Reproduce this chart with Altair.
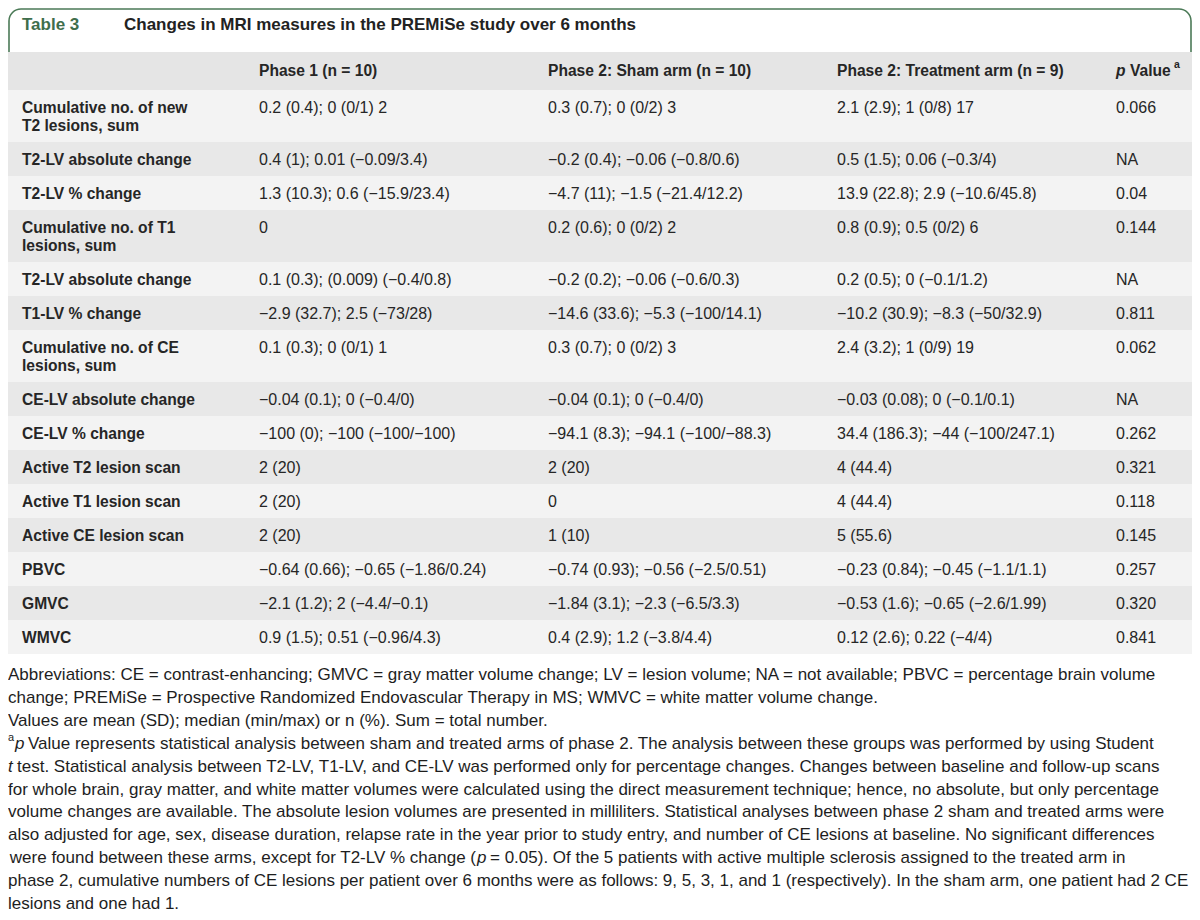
import altair as alt
import pandas as pd

# ---------------- content ----------------
title_tag = "Table 3"
title_text = "Changes in MRI measures in the PREMiSe study over 6 months"
col_headers = ["Phase 1 (n = 10)", "Phase 2: Sham arm (n = 10)", "Phase 2: Treatment arm (n = 9)"]
pval_header = [("p", "italic"), ("Value", "bold"), ("a", "sup")]

row_labels = [
    "Cumulative no. of new\nT2 lesions, sum",
    "T2-LV absolute change",
    "T2-LV % change",
    "Cumulative no. of T1\nlesions, sum",
    "T2-LV absolute change",
    "T1-LV % change",
    "Cumulative no. of CE\nlesions, sum",
    "CE-LV absolute change",
    "CE-LV % change",
    "Active T2 lesion scan",
    "Active T1 lesion scan",
    "Active CE lesion scan",
    "PBVC",
    "GMVC",
    "WMVC",
]
phase1 = [
    "0.2 (0.4); 0 (0/1) 2", "0.4 (1); 0.01 (−0.09/3.4)", "1.3 (10.3); 0.6 (−15.9/23.4)", "0",
    "0.1 (0.3); (0.009) (−0.4/0.8)", "−2.9 (32.7); 2.5 (−73/28)", "0.1 (0.3); 0 (0/1) 1",
    "−0.04 (0.1); 0 (−0.4/0)", "−100 (0); −100 (−100/−100)", "2 (20)", "2 (20)", "2 (20)",
    "−0.64 (0.66); −0.65 (−1.86/0.24)", "−2.1 (1.2); 2 (−4.4/−0.1)", "0.9 (1.5); 0.51 (−0.96/4.3)",
]
sham = [
    "0.3 (0.7); 0 (0/2) 3", "−0.2 (0.4); −0.06 (−0.8/0.6)", "−4.7 (11); −1.5 (−21.4/12.2)",
    "0.2 (0.6); 0 (0/2) 2", "−0.2 (0.2); −0.06 (−0.6/0.3)", "−14.6 (33.6); −5.3 (−100/14.1)",
    "0.3 (0.7); 0 (0/2) 3", "−0.04 (0.1); 0 (−0.4/0)", "−94.1 (8.3); −94.1 (−100/−88.3)",
    "2 (20)", "0", "1 (10)", "−0.74 (0.93); −0.56 (−2.5/0.51)", "−1.84 (3.1); −2.3 (−6.5/3.3)",
    "0.4 (2.9); 1.2 (−3.8/4.4)",
]
treat = [
    "2.1 (2.9); 1 (0/8) 17", "0.5 (1.5); 0.06 (−0.3/4)", "13.9 (22.8); 2.9 (−10.6/45.8)",
    "0.8 (0.9); 0.5 (0/2) 6", "0.2 (0.5); 0 (−0.1/1.2)", "−10.2 (30.9); −8.3 (−50/32.9)",
    "2.4 (3.2); 1 (0/9) 19", "−0.03 (0.08); 0 (−0.1/0.1)", "34.4 (186.3); −44 (−100/247.1)",
    "4 (44.4)", "4 (44.4)", "5 (55.6)", "−0.23 (0.84); −0.45 (−1.1/1.1)",
    "−0.53 (1.6); −0.65 (−2.6/1.99)", "0.12 (2.6); 0.22 (−4/4)",
]
pvals = ["0.066", "NA", "0.04", "0.144", "NA", "0.811", "0.062", "NA", "0.262",
         "0.321", "0.118", "0.145", "0.257", "0.320", "0.841"]

# footnote lines: list of segments (text, style)
footnotes = [
    [("Abbreviations: CE = contrast-enhancing; GMVC = gray matter volume change; LV = lesion volume; NA = not available; PBVC = percentage brain volume", "normal")],
    [("change; PREMiSe = Prospective Randomized Endovascular Therapy in MS; WMVC = white matter volume change.", "normal")],
    [("Values are mean (SD); median (min/max) or n (%). Sum = total number.", "normal")],
    [("a", "sup"), ("p", "italic"), ("Value represents statistical analysis between sham and treated arms of phase 2. The analysis between these groups was performed by using Student", "normal")],
    [("t", "italic"), ("test. Statistical analysis between T2-LV, T1-LV, and CE-LV was performed only for percentage changes. Changes between baseline and follow-up scans", "normal")],
    [("for whole brain, gray matter, and white matter volumes were calculated using the direct measurement technique; hence, no absolute, but only percentage", "normal")],
    [("volume changes are available. The absolute lesion volumes are presented in milliliters. Statistical analyses between phase 2 sham and treated arms were", "normal")],
    [("also adjusted for age, sex, disease duration, relapse rate in the year prior to study entry, and number of CE lesions at baseline. No significant differences", "normal")],
    [("were found between these arms, except for T2-LV % change (", "normal_r"), ("p", "italic"), ("= 0.05). Of the 5 patients with active multiple sclerosis assigned to the treated arm in", "normal")],
    [("phase 2, cumulative numbers of CE lesions per patient over 6 months were as follows: 9, 5, 3, 1, and 1 (respectively). In the sham arm, one patient had 2 CE", "normal")],
    [("lesions and one had 1.", "normal")],
]

# ---------------- layout (reference pixel coordinates) ----------------
W, H = 1184, 904
X0, Y0 = 8, 8
FONT = "Liberation Sans"
GREEN = "#4b7a57"
GREEN_TXT = "#3f6e4c"
TXT = "#262626"
HEADER_FILL = "#e5e5e5"
LIGHT = "#f3f3f3"
DARK = "#e8e8e8"

COL_X = [22, 259, 548, 837, 1116]
HEADER_TOP, HEADER_BOT = 52, 90
LINE_H = 18
ROW1_H, ROW2_H = 34, 52
TXT_DY = 17.5
FN_Y0, FN_DY = 675, 22.9
FN_FS = 17.0

# segment x positions for footnote lines (per line, per segment)
fn_seg_x = {3: [8, 15, 28], 4: [8, 17], 8: [476, 477, 490]}

xs = alt.Scale(domain=[X0, X0 + W], range=[0, W])
ys = alt.Scale(domain=[Y0, Y0 + H], range=[0, H])

# row bands & text
bands, labels, cells = [], [], []
top = HEADER_BOT
for i, lab in enumerate(row_labels):
    lines = lab.split("\n")
    h = ROW2_H if len(lines) > 1 else ROW1_H
    bands.append({"x": 0, "x2": 1200, "y": top, "y2": top + h,
                  "shade": "light" if i % 2 == 0 else "dark"})
    for j, ln in enumerate(lines):
        labels.append({"x": COL_X[0], "y": top + TXT_DY + LINE_H * j, "t": ln})
    for c, vals in enumerate([phase1, sham, treat, pvals]):
        cells.append({"x": COL_X[c + 1], "y": top + TXT_DY, "t": vals[i]})
    top += h

bands_df = pd.DataFrame(bands)
labels_df = pd.DataFrame(labels)
cells_df = pd.DataFrame(cells)


def enc(df):
    return alt.Chart(df).encode(
        x=alt.X("x:Q", scale=xs, axis=None),
        y=alt.Y("y:Q", scale=ys, axis=None),
        text="t:N",
    )


def rect_layer(df, **kw):
    return alt.Chart(df).mark_rect(**kw).encode(
        x=alt.X("x:Q", scale=xs, axis=None),
        x2="x2:Q",
        y=alt.Y("y:Q", scale=ys, axis=None),
        y2="y2:Q",
    )


frame = rect_layer(pd.DataFrame([{"x": 9, "x2": 1191, "y": 9, "y2": 80}]),
                   fill="white", stroke=GREEN, strokeWidth=1.6, cornerRadius=12)
header_band = rect_layer(pd.DataFrame([{"x": 0, "x2": 1200, "y": HEADER_TOP, "y2": HEADER_BOT}]),
                         fill=HEADER_FILL)
row_bands = alt.Chart(bands_df).mark_rect().encode(
    x=alt.X("x:Q", scale=xs, axis=None), x2="x2:Q",
    y=alt.Y("y:Q", scale=ys, axis=None), y2="y2:Q",
    color=alt.Color("shade:N", scale=alt.Scale(domain=["light", "dark"], range=[LIGHT, DARK]), legend=None),
)

title_tag_l = enc(pd.DataFrame([{"x": 22, "y": 25, "t": title_tag}])).mark_text(
    align="left", baseline="middle", font=FONT, fontSize=17, fontWeight=600, color=GREEN_TXT)
title_l = enc(pd.DataFrame([{"x": 124, "y": 25, "t": title_text}])).mark_text(
    align="left", baseline="middle", font=FONT, fontSize=17, fontWeight="bold", color="#222222")

HDR_Y = 71
hdr_df = pd.DataFrame([{"x": COL_X[c + 1], "y": HDR_Y, "t": t} for c, t in enumerate(col_headers)])
hdr_l = enc(hdr_df).mark_text(align="left", baseline="middle", font=FONT, fontSize=15.6,
                              fontWeight="bold", color=TXT)
p_x = [COL_X[4], COL_X[4] + 14, COL_X[4] + 58]
hdr_p = enc(pd.DataFrame([{"x": p_x[0], "y": HDR_Y, "t": pval_header[0][0]}])).mark_text(
    align="left", baseline="middle", font=FONT, fontSize=15.6, fontWeight="bold", fontStyle="italic", color=TXT)
hdr_v = enc(pd.DataFrame([{"x": p_x[1], "y": HDR_Y, "t": pval_header[1][0]}])).mark_text(
    align="left", baseline="middle", font=FONT, fontSize=15.6, fontWeight="bold", color=TXT)
hdr_a = enc(pd.DataFrame([{"x": p_x[2], "y": HDR_Y - 6, "t": pval_header[2][0]}])).mark_text(
    align="left", baseline="middle", font=FONT, fontSize=10.5, fontWeight="bold", color=TXT)

label_l = enc(labels_df).mark_text(align="left", baseline="middle", font=FONT, fontSize=15.6,
                                   fontWeight="bold", color=TXT)
cell_l = enc(cells_df).mark_text(align="left", baseline="middle", font=FONT, fontSize=16, color=TXT)

# footnotes
fn_rows = {"normal": [], "normal_r": [], "italic": [], "sup": []}
for li, segs in enumerate(footnotes):
    y = FN_Y0 + FN_DY * li
    xs_line = fn_seg_x.get(li, [8])
    for si, (txt, style) in enumerate(segs):
        yy = y - 6 if style == "sup" else y
        fn_rows[style].append({"x": xs_line[si], "y": yy, "t": txt})

fn_layers = []
for style, rows in fn_rows.items():
    if not rows:
        continue
    kw = dict(baseline="middle", font=FONT, fontSize=FN_FS, color="#1e1e1e", align="left")
    if style == "normal_r":
        kw["align"] = "right"
    if style == "italic":
        kw["fontStyle"] = "italic"
    if style == "sup":
        kw["fontSize"] = 11
    fn_layers.append(enc(pd.DataFrame(rows)).mark_text(**kw))

chart = alt.layer(
    frame, header_band, row_bands, title_tag_l, title_l, hdr_l, hdr_p, hdr_v, hdr_a,
    label_l, cell_l, *fn_layers
).properties(
    width=W, height=H, padding=0, autosize=alt.AutoSizeParams(type="none"),
    background="white",
).configure_view(stroke=None)

chart.save("out.html", embed_options={"renderer": "svg", "actions": False})
